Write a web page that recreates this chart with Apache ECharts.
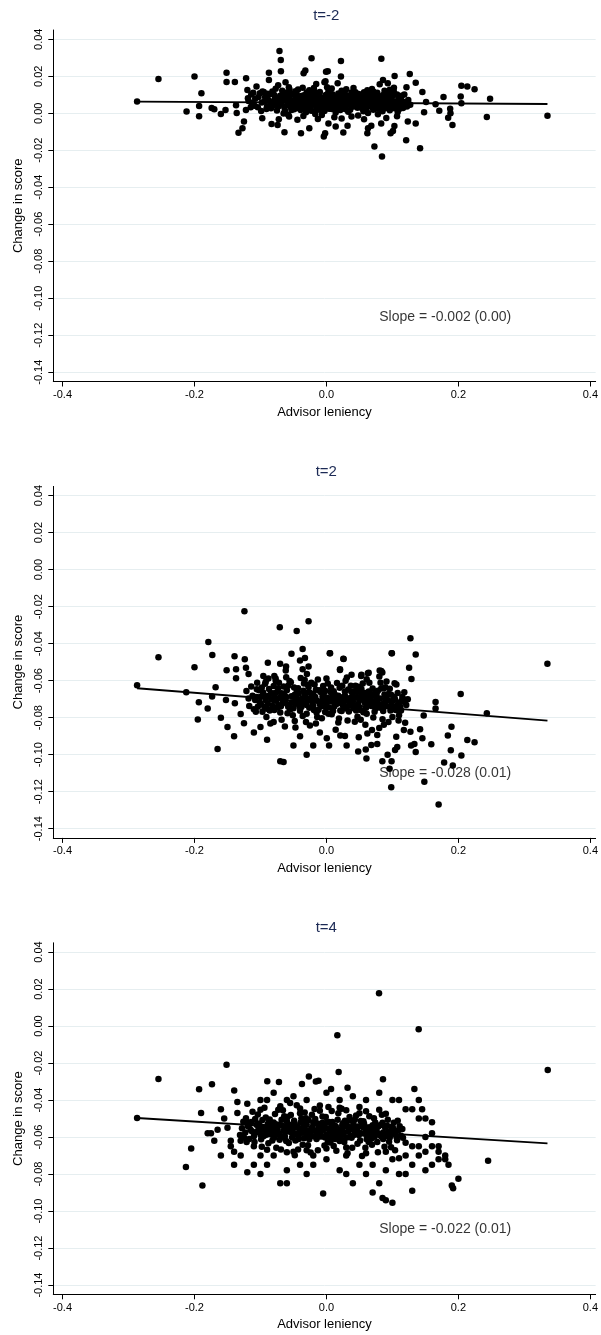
<!DOCTYPE html>
<html><head><meta charset="utf-8">
<script src="https://cdn.jsdelivr.net/npm/echarts@6/dist/echarts.min.js"></script>
<style>html,body{margin:0;padding:0;background:#fff}#c{width:601px;height:1335px}</style>
</head><body><div id="c"></div><script>
const panelTitles = ['t=-2', 't=2', 't=4'];
const slopeLabels = ['Slope = -0.002 (0.00)', 'Slope = -0.028 (0.01)', 'Slope = -0.022 (0.01)'];
const slopeLabelPos = [0.18, -0.11];
const yTicks = [-0.14, -0.12, -0.10, -0.08, -0.06, -0.04, -0.02, 0.00, 0.02, 0.04];
const xTicks = [-0.4, -0.2, 0.0, 0.2, 0.4];
const xTitle = 'Advisor leniency';
const yTitle = 'Change in score';

const fitTm2 = [[-0.287, 0.0063], [0.335, 0.0050]];
const fitT2 = [[-0.287, -0.0641], [0.335, -0.0816]];
const fitT4 = [[-0.287, -0.0497], [0.335, -0.0634]];

const pointsTm2 = [
[-0.287,0.0063],[-0.2546,0.0185],[-0.200,0.0198],[-0.1895,0.0108],[-0.212,0.0009],[-0.193,0.0039],[-0.193,-0.0016],[-0.174,0.0029],[-0.170,0.0021],[-0.160,-0.0004],[-0.153,0.0018],[-0.1514,0.0219],[-0.1514,0.0169],[-0.1388,0.0169],[-0.1218,0.0189],[-0.137,0.0043],[-0.136,0.0002],[-0.1333,-0.0105],[-0.1273,-0.0081],[-0.125,-0.0045],[-0.1198,0.0126],[-0.119,0.0081],[-0.122,0.0018],[-0.1148,0.0032],[-0.111,0.0111],[-0.106,0.0144],[-0.101,0.0108],[-0.097,0.0117],[-0.0973,-0.0027],[-0.0872,0.0219],[-0.0872,0.018],[-0.0712,0.0337],[-0.0692,0.0288],[-0.069,0.0227],[-0.0732,0.0151],[-0.062,0.0168],[-0.057,0.014],[-0.0832,-0.0058],[-0.074,-0.0063],[-0.0636,-0.0103],[-0.0722,-0.0033],[-0.0566,-0.0018],[-0.0386,-0.0108],[-0.026,-0.0081],[-0.0346,0.0216],[-0.032,0.0231],[-0.0226,0.0297],[-0.0155,0.0158],[-0.004,-0.0126],[-0.002,-0.0108],[-0.0006,0.0225],[-0.003,0.0168],[0.003,-0.0055],
[0.022,0.0283],[0.0832,0.0295],[0.002,0.0227],[-0.0015,0.0173],[0.022,0.0198],[0.017,0.0162],[0.0857,0.018],[0.0807,0.0157],[0.1033,0.0202],[0.093,0.0162],[0.1023,0.0138],[0.1263,0.0212],[0.1213,0.014],[0.1353,0.0165],[0.1454,0.0115],[0.151,0.0061],[0.1654,0.0049],[0.1774,0.0088],[0.171,0.0014],[0.148,0.0005],[0.1875,0.0025],[0.188,0.0],[0.1845,-0.0024],[0.191,-0.0063],[0.2045,0.0148],[0.2135,0.0144],[0.2245,0.013],[0.2035,0.009],[0.2045,0.0054],[0.248,0.0079],[0.2431,-0.002],[0.335,-0.0013],[0.1233,-0.0045],[0.1353,-0.0056],[0.1208,-0.0146],[0.1419,-0.0189],[0.0727,-0.018],[0.0842,-0.0234],[0.063,-0.0081],[0.062,-0.0108],[0.068,-0.0068],[0.083,-0.0056],[0.0972,-0.0108],[0.1008,-0.0096],[0.103,-0.0069],[0.032,-0.0068],[0.0256,-0.0104],[0.014,-0.0072],[0.107,-0.0016],[0.0907,-0.0025],
[-0.095,0.0115],[-0.088,0.0072],[-0.083,0.0041],[-0.079,0.0098],[-0.075,0.0015],[-0.071,0.0062],[-0.067,0.0121],[-0.064,0.0034],[-0.061,0.0088],[-0.058,-0.0008],[-0.055,0.0052],[-0.052,0.0105],[-0.049,0.0021],[-0.046,0.0075],[-0.043,0.0128],[-0.041,0.0039],[-0.038,0.0093],[-0.035,-0.0015],[-0.033,0.0058],[-0.030,0.0112],[-0.028,0.0024],[-0.025,0.0081],[-0.022,0.0046],[-0.019,0.0136],[-0.017,-0.0004],[-0.014,0.0067],[-0.011,0.0101],[-0.009,0.0031],[-0.006,0.0084],[-0.003,0.0012],[0.000,0.0056],[0.003,0.0118],[0.006,0.0037],[0.009,0.0079],[0.012,-0.0021],[0.015,0.0063],[0.018,0.0107],[0.021,0.0018],[0.024,0.0091],[0.027,0.0045],[0.030,0.0130],[0.033,0.0008],[0.036,0.0071],[0.039,0.0035],[0.042,0.0099],[0.045,0.0054],[0.048,-0.0012],[0.051,0.0083],[0.054,0.0027],[0.057,0.0114],[0.060,0.0049],[0.063,0.0002],[0.066,0.0077],[0.069,0.0033],[0.072,0.0102],[0.075,0.0058],[0.078,-0.0006],[0.081,0.0086],[0.084,0.0041],[0.088,0.0121],[0.092,0.0065],[0.096,0.0016],[0.100,0.0092],[0.104,0.0047],[0.108,0.0007],[0.112,0.0074],[0.116,0.0029],
[-0.098,0.0058],[-0.091,0.0023],[-0.086,0.0103],[-0.081,0.0064],[-0.077,0.0132],[-0.073,0.0036],[-0.069,0.0079],[-0.065,-0.0002],[-0.062,0.0111],[-0.059,0.0045],[-0.056,0.0087],[-0.053,0.0017],[-0.050,0.0068],[-0.047,0.0119],[-0.044,0.0029],[-0.040,0.0076],[-0.037,0.0048],[-0.034,0.0097],[-0.031,0.0005],[-0.029,0.0069],[-0.026,0.0124],[-0.023,0.0013],[-0.020,0.0059],[-0.018,0.0095],[-0.015,0.0026],[-0.012,0.0043],[-0.010,0.0115],[-0.007,-0.0009],[-0.004,0.0072],[-0.001,0.0098],[0.002,0.0028],[0.005,0.0066],[0.008,0.0134],[0.011,0.0049],[0.014,0.0004],[0.017,0.0085],[0.020,0.0039],[0.023,0.0121],[0.026,0.0061],[0.029,0.0022],[0.032,0.0094],[0.035,0.0050],[0.038,-0.0018],[0.041,0.0068],[0.044,0.0113],[0.047,0.0030],[0.050,0.0061],[0.053,0.0097],[0.056,0.0011],[0.059,0.0073],[0.062,0.0125],[0.065,0.0040],[0.068,0.0089],[0.071,0.0019],[0.074,0.0069],[0.077,0.0111],[0.080,0.0025],[0.083,0.0060],[0.086,0.0098],[0.090,0.0034],[0.094,0.0081],[0.098,0.0044],[0.102,0.0118],[0.106,0.0062],[0.110,0.0021],[0.114,0.0095],[0.119,0.0052],
[-0.093,0.0088],[-0.085,0.0052],[-0.078,0.0079],[-0.072,0.0047],[-0.066,0.0093],[-0.060,0.0066],[-0.054,0.0032],[-0.048,0.0097],[-0.042,0.0061],[-0.036,0.0029],[-0.031,0.0085],[-0.026,0.0042],[-0.021,0.0108],[-0.016,0.0071],[-0.011,0.0019],[-0.006,0.0055],[-0.001,0.0087],[0.004,0.0024],[0.009,0.0103],[0.013,0.0058],[0.018,0.0031],[0.022,0.0076],[0.027,0.0112],[0.031,0.0048],[0.036,0.0019],[0.040,0.0087],[0.045,0.0036],[0.049,0.0104],[0.054,0.0067],[0.058,0.0029],[0.063,0.0091],[0.067,0.0053],[0.071,0.0117],[0.076,0.0038],[0.080,0.0072],[0.085,0.0011],[0.089,0.0087],[0.094,0.0052],[0.099,0.0104],[0.103,0.0027],[0.109,0.0083],[0.117,0.0061],[0.122,0.0037],[-0.104,0.0033],[-0.108,0.0079],[-0.113,0.0056],
[-0.090,0.0036],[-0.082,0.0117],[-0.076,0.0056],[-0.070,0.0095],[-0.063,0.0015],[-0.057,0.0071],[-0.051,0.0044],[-0.045,0.0102],[-0.039,0.0017],[-0.034,0.0066],[-0.028,0.0094],[-0.024,0.0033],[-0.018,0.0049],[-0.013,0.0089],[-0.008,0.0064],[-0.002,0.0036],[0.002,0.0101],[0.007,0.0052],[0.011,0.0091],[0.016,0.0026],[0.020,0.0069],[0.025,0.0037],[0.029,0.0098],[0.034,0.0063],[0.038,0.0112],[0.043,0.0043],[0.047,0.0081],[0.052,0.0048],[0.056,0.0089],[0.061,0.0031],[0.065,0.0106],[0.070,0.0061],[0.074,0.0024],[0.079,0.0093],[0.083,0.0047],[0.087,0.0074],[0.091,0.0028],[0.097,0.0067],[0.101,0.0039],[0.107,0.0101],[0.111,0.0047],
[-0.118,0.0066],[-0.114,0.0101],[-0.109,0.0041],[-0.103,0.0088],[-0.099,0.0012],[-0.094,0.0064],[-0.089,0.0105],[-0.084,0.0027],[-0.080,0.0043],[-0.074,0.0083],[-0.068,0.0057],[-0.062,0.0082],[-0.058,0.0103],[-0.053,0.0063],[-0.047,0.0051],[-0.043,0.0082],[-0.037,0.0066],[-0.032,0.0041],[-0.027,0.0057],[-0.022,0.0089],[-0.017,0.0113],[-0.012,0.0074],[-0.007,0.0045],[-0.002,0.0061],[0.003,0.0082],[0.008,0.0023],[0.012,0.0072],[0.017,0.0053],[0.021,0.0101],[0.026,0.0083],[0.031,0.0071],[0.035,0.0087],[0.040,0.0052],[0.044,0.0073],[0.049,0.0046],[0.053,0.0081],[0.058,0.0063],[0.062,0.0047],[0.066,0.0092],[0.071,0.0078],[0.075,0.0096],[0.080,0.0054],[0.084,0.0084],[0.089,0.0063],[0.093,0.0101],[0.098,0.0075],[0.103,0.0061],[0.108,0.0043],[0.113,0.0083],[0.118,0.0101],[0.124,0.0071],[0.127,0.0046],[-0.056,0.0128],[-0.036,0.0138],[0.001,0.0141],[0.041,0.0136],[0.069,0.0131],[0.096,0.0127],[-0.044,-0.0035],[-0.013,-0.0031],[0.023,-0.0029],[0.057,-0.0033]
];

const pointsT2 = [
[-0.287,-0.0625],[-0.2546,-0.0474],[-0.2125,-0.0663],[-0.2,-0.0528],[-0.1934,-0.0717],[-0.195,-0.081],[-0.179,-0.0391],[-0.173,-0.0461],[-0.168,-0.0636],[-0.1733,-0.0686],[-0.165,-0.097],[-0.1523,-0.0704],[-0.1513,-0.0544],[-0.1388,-0.0722],[-0.1393,-0.0468],[-0.137,-0.0539],[-0.137,-0.0587],[-0.1238,-0.0484],[-0.1243,-0.0225],[-0.122,-0.053],[-0.118,-0.0564],[-0.1213,-0.0656],[-0.117,-0.0737],[-0.0957,-0.0575],[-0.0888,-0.0503],[-0.1055,-0.0647],[-0.0707,-0.0311],[-0.0451,-0.0331],[-0.0271,-0.0279],[-0.0361,-0.0429],[-0.053,-0.0454],[-0.0326,-0.0477],[-0.0401,-0.0491],[-0.0702,-0.0509],[-0.0612,-0.0523],[-0.0617,-0.0545],[-0.0271,-0.0523],[-0.0361,-0.0539],[-0.0296,-0.0564],[0.0055,-0.0452],[0.026,-0.0483],[0.0205,-0.0542],[0.0526,-0.0575],[0.0627,-0.056],[0.0807,-0.0545],[0.0847,-0.0556],[0.0802,-0.0578],[0.0988,-0.0452],[0.1033,-0.0614],[0.0892,-0.0636],[0.0481,-0.0633],[-0.079,-0.0575],[-0.077,-0.06],[-0.092,-0.0606],
[0.1273,-0.0371],[0.1353,-0.0459],[0.0992,-0.0452],[0.005,-0.0452],[0.0256,-0.0481],[0.1253,-0.053],[0.1288,-0.0591],[0.0832,-0.0548],[0.064,-0.0557],[0.053,-0.0568],[0.038,-0.0568],[0.0206,-0.0538],[0.3349,-0.0508],[0.2035,-0.0672],[0.2431,-0.0776],[0.1654,-0.0715],[0.1654,-0.075],[0.1474,-0.0788],[0.1233,-0.07],[0.118,-0.0715],[0.1895,-0.0849],[0.184,-0.0896],[0.2135,-0.0921],[0.2245,-0.0933],[0.1885,-0.0976],[0.2045,-0.1004],[0.1784,-0.1043],[0.1915,-0.1059],[0.1484,-0.1146],[0.0982,-0.1176],[0.0957,-0.1076],[0.0987,-0.1035],[0.0847,-0.1035],[0.0927,-0.1001],[0.0606,-0.1021],[0.0481,-0.0983],[0.0596,-0.0972],[0.068,-0.0948],[0.077,-0.0943],[0.1073,-0.0958],[0.104,-0.0975],[0.1283,-0.095],[0.1353,-0.0985],[0.1333,-0.0943],[0.1589,-0.0944],[0.1454,-0.0912],[0.1419,-0.0863],[0.1273,-0.0876],[0.1193,-0.0827],[0.1173,-0.0867],[0.1058,-0.0903],[0.077,-0.0894],[0.069,-0.0867],[0.062,-0.0885],[0.049,-0.0906],[0.0306,-0.095],[0.004,-0.095],[0.0005,-0.0912],[0.021,-0.0896],[0.028,-0.0899],[0.1093,-0.0816],[0.1098,-0.0759],
[-0.15,-0.085],[-0.14,-0.09],[-0.125,-0.083],[-0.11,-0.088],[-0.1,-0.085],[-0.07,-0.1035],[-0.065,-0.104],[-0.05,-0.095],[-0.04,-0.09],[-0.09,-0.092],[-0.13,-0.078],[-0.16,-0.08],[-0.18,-0.075],[-0.02,-0.095],[-0.01,-0.088],[-0.03,-0.1],[0.17,-0.127],
[-0.108,-0.0705],[-0.102,-0.0652],[-0.097,-0.0768],[-0.093,-0.0617],[-0.089,-0.0724],[-0.085,-0.0831],[-0.081,-0.0668],[-0.077,-0.0589],[-0.074,-0.0745],[-0.071,-0.0693],[-0.068,-0.0812],[-0.065,-0.0631],[-0.062,-0.0718],[-0.059,-0.0776],[-0.056,-0.0602],[-0.053,-0.0684],[-0.050,-0.0749],[-0.047,-0.0853],[-0.045,-0.0655],[-0.042,-0.0712],[-0.039,-0.0586],[-0.036,-0.0791],[-0.033,-0.0677],[-0.030,-0.0732],[-0.028,-0.0623],[-0.025,-0.0842],[-0.022,-0.0701],[-0.019,-0.0758],[-0.016,-0.0649],[-0.013,-0.0594],[-0.010,-0.0727],[-0.007,-0.0803],[-0.004,-0.0668],[-0.001,-0.0741],[0.002,-0.0615],[0.005,-0.0696],[0.008,-0.0782],[0.011,-0.0657],[0.014,-0.0866],[0.017,-0.0722],[0.020,-0.0638],[0.023,-0.0764],[0.026,-0.0689],[0.029,-0.0601],[0.032,-0.0815],[0.035,-0.0713],[0.038,-0.0662],[0.041,-0.0749],[0.044,-0.0627],[0.047,-0.0795],[0.050,-0.0706],[0.053,-0.0645],[0.056,-0.0771],[0.059,-0.0838],[0.062,-0.0683],[0.065,-0.0612],[0.068,-0.0737],[0.071,-0.0799],[0.074,-0.0661],[0.077,-0.0718],[0.080,-0.0856],[0.083,-0.0642],[0.086,-0.0764],[0.090,-0.0701],[0.094,-0.0823],[0.098,-0.0676],[0.102,-0.0745],[0.106,-0.0621],[0.110,-0.0787],[0.114,-0.0709],[0.118,-0.0663],
[-0.105,-0.0612],[-0.099,-0.0728],[-0.095,-0.0683],[-0.091,-0.0796],[-0.087,-0.0645],[-0.083,-0.0702],[-0.079,-0.0758],[-0.075,-0.0662],[-0.072,-0.0611],[-0.069,-0.0739],[-0.066,-0.0697],[-0.063,-0.0848],[-0.060,-0.0652],[-0.057,-0.0731],[-0.054,-0.0608],[-0.051,-0.0787],[-0.048,-0.0676],[-0.046,-0.0724],[-0.043,-0.0641],[-0.040,-0.0763],[-0.037,-0.0697],[-0.034,-0.0615],[-0.031,-0.0824],[-0.029,-0.0709],[-0.026,-0.0663],[-0.023,-0.0611],[-0.020,-0.0737],[-0.017,-0.0688],[-0.014,-0.0797],[-0.011,-0.0652],[-0.008,-0.0714],[-0.005,-0.0629],[-0.002,-0.0769],[0.001,-0.0692],[0.004,-0.0745],[0.007,-0.0637],[0.010,-0.0711],[0.013,-0.0676],[0.016,-0.0613],[0.019,-0.0805],[0.022,-0.0692],[0.025,-0.0734],[0.028,-0.0658],[0.031,-0.0703],[0.034,-0.0767],[0.037,-0.0627],[0.040,-0.0685],[0.043,-0.0822],[0.046,-0.0661],[0.049,-0.0741],[0.052,-0.0692],[0.055,-0.0616],[0.058,-0.0718],[0.061,-0.0779],[0.064,-0.0658],[0.067,-0.0705],[0.070,-0.0642],[0.073,-0.0768],[0.076,-0.0691],[0.079,-0.0734],[0.082,-0.0612],[0.085,-0.0809],[0.088,-0.0675],[0.092,-0.0738],[0.096,-0.0644],[0.100,-0.0796],[0.104,-0.0702],[0.108,-0.0667],[0.112,-0.0742],
[-0.112,-0.0682],[-0.104,-0.0741],[-0.098,-0.0637],[-0.092,-0.0705],[-0.086,-0.0762],[-0.080,-0.0629],[-0.076,-0.0708],[-0.070,-0.0772],[-0.064,-0.0675],[-0.058,-0.0627],[-0.052,-0.0718],[-0.046,-0.0683],[-0.041,-0.0738],[-0.035,-0.0654],[-0.030,-0.0779],[-0.024,-0.0694],[-0.018,-0.0621],[-0.012,-0.0757],[-0.006,-0.0685],[0.000,-0.0718],[0.006,-0.0661],[0.012,-0.0739],[0.018,-0.0682],[0.024,-0.0628],[0.030,-0.0751],[0.036,-0.0694],[0.042,-0.0657],[0.048,-0.0726],[0.054,-0.0681],[0.060,-0.0747],[0.066,-0.0672],[0.072,-0.0714],[0.078,-0.0655],[0.084,-0.0728],[0.091,-0.0684],[0.097,-0.0761],[0.103,-0.0688],[0.109,-0.0719],
[-0.107,-0.0768],[-0.100,-0.0689],[-0.094,-0.0742],[-0.088,-0.0681],[-0.082,-0.0735],[-0.078,-0.0693],[-0.073,-0.0641],[-0.067,-0.0724],[-0.061,-0.0688],[-0.055,-0.0756],[-0.049,-0.0637],[-0.044,-0.0702],[-0.038,-0.0742],[-0.032,-0.0689],[-0.027,-0.0634],[-0.021,-0.0718],[-0.015,-0.0772],[-0.009,-0.0661],[-0.003,-0.0707],[0.003,-0.0779],[0.009,-0.0688],[0.015,-0.0726],[0.021,-0.0761],[0.027,-0.0713],[0.033,-0.0648],[0.039,-0.0728],[0.045,-0.0762],[0.051,-0.0661],[0.057,-0.0695],[0.063,-0.0722],[0.069,-0.0683],[0.075,-0.0749],[0.081,-0.0696],[0.087,-0.0641],[0.093,-0.0707],[0.099,-0.0731],[0.105,-0.0758],[0.115,-0.0688],[0.121,-0.0732],
[-0.118,-0.0697],[-0.114,-0.0632],[-0.110,-0.0755],[-0.106,-0.0689],[-0.101,-0.0718],[-0.096,-0.0664],[-0.090,-0.0752],[-0.084,-0.0671],[-0.079,-0.0706],[-0.073,-0.0733],[-0.068,-0.0668],[-0.063,-0.0702],[-0.058,-0.0741],[-0.053,-0.0719],[-0.047,-0.0703],[-0.042,-0.0669],[-0.037,-0.0724],[-0.031,-0.0667],[-0.026,-0.0747],[-0.020,-0.0671],[-0.014,-0.0708],[-0.008,-0.0738],[-0.002,-0.0654],[0.004,-0.0712],[0.010,-0.0764],[0.016,-0.0699],[0.022,-0.0718],[0.028,-0.0681],[0.034,-0.0735],[0.040,-0.0712],[0.046,-0.0691],[0.052,-0.0759],[0.058,-0.0667],[0.064,-0.0703],[0.070,-0.0727],[0.076,-0.0671],[0.082,-0.0746],[0.088,-0.0719],[0.094,-0.0672],[0.100,-0.0708],[0.107,-0.0735],[0.113,-0.0761],[0.119,-0.0703],[-0.088,-0.0588],[-0.061,-0.0581],[-0.033,-0.0596],[0.000,-0.0588],[0.031,-0.0583],[0.061,-0.0592],[0.091,-0.0604],[-0.080,-0.0823],[-0.048,-0.0818],[-0.016,-0.0832],[0.018,-0.0826],[0.052,-0.0812],[0.087,-0.0838]
];

const pointsT4 = [
[-0.287,-0.0497],[-0.2546,-0.0286],[-0.213,-0.0762],[-0.205,-0.0662],[-0.193,-0.0342],[-0.188,-0.0862],[-0.1735,-0.0315],[-0.175,-0.058],[-0.165,-0.056],[-0.16,-0.07],[-0.1514,-0.0209],[-0.1398,-0.0349],[-0.145,-0.065],[-0.14,-0.075],[-0.135,-0.041],[-0.13,-0.07],[-0.12,-0.079],[-0.11,-0.075],[-0.1,-0.08],[-0.0897,-0.0299],[-0.072,-0.0303],[-0.07,-0.085],[-0.06,-0.085],[-0.06,-0.078],[-0.0371,-0.0313],[-0.0266,-0.0273],[-0.016,-0.03],[-0.012,-0.0295],[-0.005,-0.0905],[0.0165,-0.005],[0.0797,0.0177],[0.1398,-0.0017],[0.0185,-0.0248],[0.0857,-0.0288],[0.3354,-0.0238],[0.007,-0.034],[0.032,-0.0333],[0.1333,-0.034],[0.245,-0.0728],[0.2,-0.0825],[0.19,-0.0862],[0.192,-0.0877],[0.09,-0.0942],[0.1,-0.0955],[0.085,-0.093],[0.13,-0.089],[0.12,-0.08],[0.15,-0.078],[0.16,-0.075],[0.17,-0.072],[0.18,-0.07],[0.14,-0.065],[0.15,-0.06],[0.17,-0.065],[0.13,-0.045],[0.11,-0.04],[0.16,-0.058],[0.04,-0.085],[0.03,-0.08],[0.02,-0.078],[0.06,-0.08],[-0.03,-0.08],[-0.02,-0.075],[0.07,-0.075],
[-0.19,-0.047],[-0.18,-0.058],[-0.17,-0.062],[-0.16,-0.045],[-0.155,-0.05],[-0.15,-0.055],[-0.145,-0.062],[-0.14,-0.068],[-0.135,-0.047],[-0.13,-0.062],[0.13,-0.065],[0.14,-0.07],[0.15,-0.068],[0.16,-0.065],[0.17,-0.068],[0.18,-0.072],[0.185,-0.075],[0.13,-0.075],[0.12,-0.07],[0.14,-0.05],[0.15,-0.05],[0.16,-0.052],[0.12,-0.045],[0.14,-0.04],[0.145,-0.045],[0.1,-0.072],[0.11,-0.08],[0.09,-0.078],[0.08,-0.085],[0.07,-0.09],[0.05,-0.075],[0.03,-0.07],[0.0,-0.072],[-0.02,-0.07],[-0.04,-0.075],[-0.05,-0.068],[-0.08,-0.07],[-0.09,-0.075],[-0.1,-0.07],[-0.11,-0.065],[-0.09,-0.04],[-0.08,-0.036],[-0.06,-0.04],[-0.05,-0.038],[-0.03,-0.04],[0.0,-0.036],[0.02,-0.04],[0.04,-0.038],[0.06,-0.04],[0.08,-0.036],[0.1,-0.04],[-0.1,-0.04],[-0.12,-0.042],
[-0.128,-0.0552],[-0.122,-0.0498],[-0.117,-0.0611],[-0.112,-0.0463],[-0.107,-0.0574],[-0.102,-0.0527],[-0.098,-0.0652],[-0.094,-0.0442],[-0.090,-0.0561],[-0.086,-0.0505],[-0.082,-0.0618],[-0.078,-0.0476],[-0.075,-0.0583],[-0.072,-0.0534],[-0.069,-0.0667],[-0.066,-0.0455],[-0.063,-0.0596],[-0.060,-0.0515],[-0.057,-0.0632],[-0.054,-0.0481],[-0.051,-0.0557],[-0.048,-0.0699],[-0.045,-0.0428],[-0.042,-0.0589],[-0.039,-0.0522],[-0.036,-0.0641],[-0.033,-0.0467],[-0.030,-0.0573],[-0.027,-0.0508],[-0.024,-0.0683],[-0.021,-0.0546],[-0.018,-0.0449],[-0.015,-0.0611],[-0.012,-0.0528],[-0.009,-0.0577],[-0.006,-0.0489],[-0.003,-0.0646],[0.000,-0.0553],[0.003,-0.0437],[0.006,-0.0602],[0.009,-0.0518],[0.012,-0.0565],[0.015,-0.0674],[0.018,-0.0472],[0.021,-0.0588],[0.024,-0.0536],[0.027,-0.0627],[0.030,-0.0455],[0.033,-0.0569],[0.036,-0.0511],[0.039,-0.0658],[0.042,-0.0587],[0.045,-0.0484],[0.048,-0.0543],[0.051,-0.0619],[0.054,-0.0702],[0.057,-0.0528],[0.060,-0.0461],[0.063,-0.0596],[0.066,-0.0547],[0.069,-0.0641],[0.072,-0.0499],[0.075,-0.0578],[0.078,-0.0682],[0.082,-0.0535],[0.086,-0.0611],[0.090,-0.0474],[0.094,-0.0572],[0.098,-0.0655],[0.102,-0.0523],[0.106,-0.0598],[0.110,-0.0714],[0.115,-0.0557],[0.120,-0.0631],
[-0.125,-0.0603],[-0.119,-0.0541],[-0.114,-0.0519],[-0.109,-0.0627],[-0.104,-0.0478],[-0.100,-0.0588],[-0.096,-0.0546],[-0.092,-0.0494],[-0.088,-0.0633],[-0.084,-0.0565],[-0.080,-0.0521],[-0.076,-0.0658],[-0.073,-0.0452],[-0.070,-0.0593],[-0.067,-0.0538],[-0.064,-0.0487],[-0.061,-0.0622],[-0.058,-0.0562],[-0.055,-0.0416],[-0.052,-0.0603],[-0.049,-0.0512],[-0.046,-0.0581],[-0.043,-0.0667],[-0.040,-0.0471],[-0.037,-0.0552],[-0.034,-0.0606],[-0.031,-0.0498],[-0.028,-0.0644],[-0.025,-0.0585],[-0.022,-0.0479],[-0.019,-0.0566],[-0.016,-0.0524],[-0.013,-0.0671],[-0.010,-0.0458],[-0.007,-0.0597],[-0.004,-0.0536],[-0.001,-0.0491],[0.002,-0.0628],[0.005,-0.0571],[0.008,-0.0459],[0.011,-0.0649],[0.014,-0.0542],[0.017,-0.0507],[0.020,-0.0621],[0.023,-0.0447],[0.026,-0.0583],[0.029,-0.0542],[0.032,-0.0688],[0.035,-0.0491],[0.038,-0.0604],[0.041,-0.0532],[0.044,-0.0563],[0.047,-0.0636],[0.050,-0.0471],[0.053,-0.0579],[0.056,-0.0514],[0.059,-0.0658],[0.062,-0.0549],[0.065,-0.0488],[0.068,-0.0609],[0.071,-0.0564],[0.074,-0.0521],[0.077,-0.0627],[0.080,-0.0588],[0.084,-0.0479],[0.088,-0.0652],[0.092,-0.0539],[0.096,-0.0603],[0.100,-0.0581],[0.104,-0.0672],[0.108,-0.0512],[0.113,-0.0593],
[-0.123,-0.0576],[-0.116,-0.0529],[-0.110,-0.0596],[-0.103,-0.0551],[-0.097,-0.0508],[-0.091,-0.0587],[-0.085,-0.0539],[-0.079,-0.0603],[-0.074,-0.0561],[-0.068,-0.0507],[-0.062,-0.0572],[-0.056,-0.0534],[-0.050,-0.0589],[-0.044,-0.0546],[-0.038,-0.0498],[-0.032,-0.0561],[-0.026,-0.0612],[-0.020,-0.0523],[-0.014,-0.0578],[-0.008,-0.0545],[-0.002,-0.0602],[0.004,-0.0519],[0.010,-0.0584],[0.016,-0.0553],[0.022,-0.0609],[0.028,-0.0512],[0.034,-0.0546],[0.040,-0.0591],[0.046,-0.0556],[0.052,-0.0513],[0.058,-0.0582],[0.064,-0.0627],[0.070,-0.0536],[0.076,-0.0562],[0.083,-0.0597],[0.089,-0.0548],[0.095,-0.0626],[0.101,-0.0553],[0.107,-0.0617],
[-0.120,-0.0523],[-0.113,-0.0569],[-0.106,-0.0533],[-0.099,-0.0612],[-0.093,-0.0563],[-0.087,-0.0517],[-0.081,-0.0579],[-0.077,-0.0531],[-0.071,-0.0615],[-0.065,-0.0566],[-0.059,-0.0491],[-0.053,-0.0547],[-0.047,-0.0619],[-0.041,-0.0571],[-0.035,-0.0526],[-0.029,-0.0591],[-0.023,-0.0554],[-0.017,-0.0502],[-0.011,-0.0597],[-0.005,-0.0561],[0.001,-0.0522],[0.007,-0.0549],[0.013,-0.0611],[0.019,-0.0573],[0.025,-0.0526],[0.031,-0.0602],[0.037,-0.0557],[0.043,-0.0506],[0.049,-0.0589],[0.055,-0.0546],[0.061,-0.0612],[0.067,-0.0571],[0.073,-0.0598],[0.079,-0.0541],[0.086,-0.0576],[0.093,-0.0507],[0.099,-0.0546],[0.105,-0.0571],[0.111,-0.0541],
[-0.131,-0.0589],[-0.126,-0.0517],[-0.121,-0.0627],[-0.115,-0.0561],[-0.108,-0.0502],[-0.101,-0.0567],[-0.095,-0.0594],[-0.089,-0.0531],[-0.083,-0.0588],[-0.078,-0.0553],[-0.072,-0.0581],[-0.066,-0.0601],[-0.060,-0.0543],[-0.054,-0.0574],[-0.048,-0.0529],[-0.042,-0.0611],[-0.036,-0.0577],[-0.030,-0.0532],[-0.024,-0.0568],[-0.018,-0.0597],[-0.012,-0.0551],[-0.006,-0.0523],[0.000,-0.0586],[0.006,-0.0629],[0.012,-0.0538],[0.018,-0.0592],[0.024,-0.0562],[0.030,-0.0523],[0.036,-0.0596],[0.042,-0.0548],[0.048,-0.0574],[0.054,-0.0529],[0.060,-0.0567],[0.066,-0.0593],[0.072,-0.0552],[0.078,-0.0581],[0.085,-0.0523],[0.091,-0.0594],[0.097,-0.0568],[0.103,-0.0582],[0.109,-0.0563],[0.116,-0.0604],[-0.100,-0.0452],[-0.070,-0.0433],[-0.040,-0.0446],[-0.010,-0.0429],[0.020,-0.0441],[0.050,-0.0437],[0.080,-0.0452],[-0.090,-0.0668],[-0.060,-0.0682],[-0.030,-0.0671],[0.000,-0.0662],[0.030,-0.0657],[0.060,-0.0688],[0.090,-0.0679]
];

const panels = [
  { title: panelTitles[0], pts: pointsTm2, fit: fitTm2, slope: slopeLabels[0] },
  { title: panelTitles[1], pts: pointsT2, fit: fitT2, slope: slopeLabels[1] },
  { title: panelTitles[2], pts: pointsT4, fit: fitT4, slope: slopeLabels[2] }
];

const FONT = '"Liberation Sans", Arial, Helvetica, sans-serif';
const STEP = 456.4, TOP = 30, LEFT = 53.3, W = 546, H = 351.5;

const chart = echarts.init(document.getElementById('c'), null, { renderer: 'canvas' });
const option = {
  animation: false,
  backgroundColor: '#ffffff',
  graphic: panels.map((p, i) => ({
    type: 'text', x: LEFT + W / 2, y: 15.5 + STEP * i,
    style: { text: p.title, textAlign: 'center', align: 'center', textVerticalAlign: 'middle', verticalAlign: 'middle',
      fill: '#1c2a55', font: '15px ' + FONT }
  })),
  grid: panels.map((p, i) => ({ left: LEFT, top: TOP + STEP * i, width: W, height: H, containLabel: false })),
  xAxis: panels.map((p, i) => ({
    type: 'value', gridIndex: i, min: -0.414, max: 0.408,
    axisLine: { show: true, onZero: false, lineStyle: { color: '#000', width: 1 } },
    axisTick: { show: true, customValues: xTicks, length: 5, lineStyle: { color: '#000' } },
    axisLabel: { customValues: xTicks, formatter: v => v.toFixed(1), color: '#000', fontSize: 11, fontFamily: FONT, margin: 8 },
    splitLine: { show: false },
    name: xTitle, nameLocation: 'middle', nameGap: 24,
    nameTextStyle: { color: '#000', fontSize: 13, fontFamily: FONT }
  })),
  yAxis: panels.map((p, i) => ({
    type: 'value', gridIndex: i, min: -0.145, max: 0.045,
    axisLine: { show: true, onZero: false, lineStyle: { color: '#000', width: 1 } },
    axisTick: { show: true, customValues: yTicks, length: 5, lineStyle: { color: '#000' } },
    axisLabel: { customValues: yTicks, rotate: 90, formatter: v => v.toFixed(2), color: '#000', fontSize: 11, fontFamily: FONT, margin: 9 },
    splitLine: { show: true, lineStyle: { color: '#e6eef0', width: 1 } },
    name: yTitle, nameLocation: 'middle', nameGap: 27,
    nameTextStyle: { color: '#000', fontSize: 13, fontFamily: FONT }
  })),
  series: []
};
panels.forEach((p, i) => {
  option.series.push({
    type: 'scatter', xAxisIndex: i, yAxisIndex: i, data: p.pts, symbol: 'circle', symbolSize: 6.5,
    itemStyle: { color: '#000', opacity: 1 }, silent: true, z: 2, large: false
  });
  option.series.push({
    type: 'line', xAxisIndex: i, yAxisIndex: i, data: p.fit, symbol: 'none',
    lineStyle: { color: '#000', width: 1.8 }, silent: true, z: 3
  });
  option.series.push({
    type: 'scatter', xAxisIndex: i, yAxisIndex: i, data: [slopeLabelPos], symbolSize: 1,
    itemStyle: { color: 'rgba(0,0,0,0)' }, silent: true, z: 4,
    label: { show: true, position: 'inside', formatter: p.slope, color: '#000', fontSize: 14, fontFamily: FONT }
  });
});
chart.setOption(option);
</script></body></html>
